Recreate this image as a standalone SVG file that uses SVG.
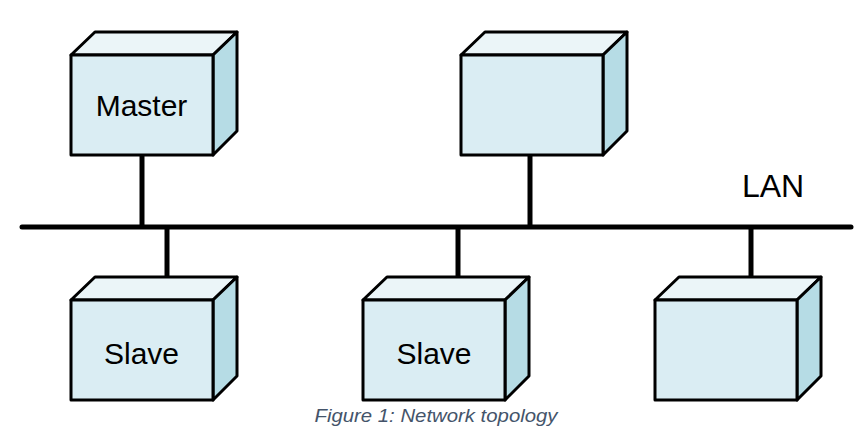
<svg xmlns="http://www.w3.org/2000/svg" width="864" height="439" viewBox="0 0 864 439">
<style>
.front{fill:#DAEDF3;stroke:#000;stroke-width:3;stroke-linejoin:round}
.top{fill:#EBF5F8;stroke:#000;stroke-width:3;stroke-linejoin:round}
.side{fill:#B6DCE5;stroke:#000;stroke-width:3;stroke-linejoin:round}
.lbl{font-family:"Liberation Sans",Arial,sans-serif;font-size:30px;fill:#000;text-anchor:middle}
.wire{stroke:#000;stroke-width:5;stroke-linecap:round;fill:none}
.cap{font-family:"Liberation Sans",Arial,sans-serif;font-size:18px;font-style:italic;fill:#44546A;text-anchor:middle}
</style>
<defs>
<g id="box">
<polygon class="top" points="0,23 24,0 166,0 142,23"/>
<polygon class="side" points="142,23 166,0 166,99 142,123"/>
<rect class="front" x="0" y="23" width="142" height="100"/>
</g>
</defs>
<g id="connectors">
<line class="wire" x1="22" y1="227" x2="851" y2="227"/>
<line class="wire" x1="142" y1="156" x2="142" y2="227" style="stroke-linecap:butt"/>
<line class="wire" x1="530" y1="156" x2="530" y2="227" style="stroke-linecap:butt"/>
<line class="wire" x1="167" y1="227" x2="167" y2="276" style="stroke-linecap:butt"/>
<line class="wire" x1="458" y1="227" x2="458" y2="276" style="stroke-linecap:butt"/>
<line class="wire" x1="751" y1="227" x2="751" y2="276" style="stroke-linecap:butt"/>
</g>
<g id="master">
<use href="#box" x="71" y="32"/>
<text class="lbl" x="141.5" y="116">Master</text>
</g>
<g id="node2">
<use href="#box" x="461" y="32"/>
</g>
<g id="slave1">
<use href="#box" x="71" y="277"/>
<text class="lbl" x="141.5" y="364">Slave</text>
</g>
<g id="slave2">
<use href="#box" x="363" y="277"/>
<text class="lbl" x="434" y="364">Slave</text>
</g>
<g id="node5">
<use href="#box" x="655" y="277"/>
</g>
<text id="lan" x="773" y="197" style="font-family:'Liberation Sans',Arial,sans-serif;font-size:32px;text-anchor:middle">LAN</text>
<text class="cap" x="436" y="422" textLength="243" lengthAdjust="spacingAndGlyphs">Figure 1: Network topology</text>
</svg>
